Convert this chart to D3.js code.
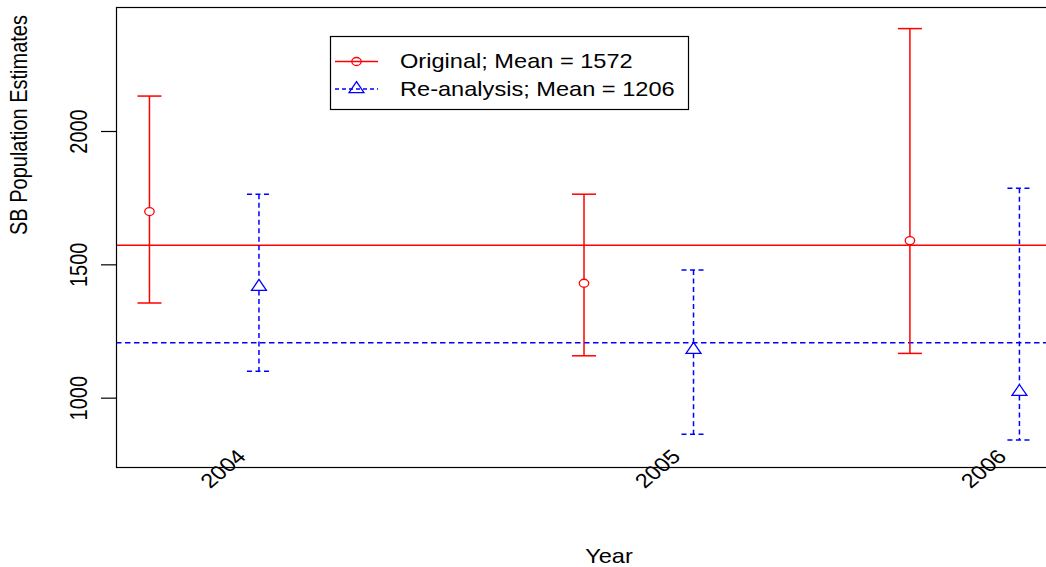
<!DOCTYPE html>
<html>
<head>
<meta charset="utf-8">
<script src="https://cdn.jsdelivr.net/npm/d3@7"></script>
<style>
body { margin: 0; background: #fff; }
text { font-family: "Liberation Sans", Arial, sans-serif; fill: #000; }
</style>
</head>
<body>
<script>
const years = ["2004", "2005", "2006"]
const yearPos = [0, 1, 1.75]
const origEst = [1698, 1429, 1589]
const origLow = [1355, 1157, 1166]
const origHigh = [2131, 1763, 2384]
const reEst = [1416, 1180, 1022]
const reLow = [1099, 863, 841]
const reHigh = [1763, 1479, 1785]
const yTicks = [1000, 1500, 2000]
const origOffset = -0.212
const reOffset = 0.04

// glyphs in the picture are stretched sideways a bit
const sx = 1.18
const lw = 1.5

const svg = d3.select("body").append("svg")
  .attr("width", 1046).attr("height", 567)

const xScale = d3.scaleLinear().domain([-0.289, 1.98]).range([116, 1102])
const yScale = d3.scaleLinear().domain([740, 2465]).range([467, 7])

const origMean = Math.round(d3.mean(origEst))
const reMean = Math.round(d3.mean(reEst))

const g = svg.append("g")

// mean lines
g.append("line")
  .attr("x1", xScale.range()[0]).attr("x2", xScale.range()[1])
  .attr("y1", yScale(origMean)).attr("y2", yScale(origMean))
  .attr("stroke", "red").attr("stroke-width", lw)
g.append("line")
  .attr("x1", xScale.range()[0]).attr("x2", xScale.range()[1])
  .attr("y1", yScale(reMean)).attr("y2", yScale(reMean))
  .attr("stroke", "blue").attr("stroke-width", lw).attr("stroke-dasharray", "5.5,3.5")

function circleMark(sel, x, y, color) {
  sel.append("ellipse").attr("cx", x).attr("cy", y)
    .attr("rx", 4 * sx).attr("ry", 4)
    .attr("fill", "none").attr("stroke", color).attr("stroke-width", 1.3)
}
function triMark(sel, x, y, color) {
  const r = 7.3
  const pts = [[0, -r], [r * 0.866 * sx, r / 2], [-r * 0.866 * sx, r / 2]]
  sel.append("path")
    .attr("d", "M" + pts.map(p => (x + p[0]) + "," + (y + p[1])).join("L") + "Z")
    .attr("fill", "none").attr("stroke", color).attr("stroke-width", 1.3)
}

function drawSeries(est, lo, hi, offset, color, dash, mark, gapUp, gapDown) {
  years.forEach(function (yr, i) {
    const x = xScale(yearPos[i] + offset)
    const ym = yScale(est[i])
    const s = g.append("g")
      .attr("stroke", color).attr("stroke-width", lw)
      .attr("stroke-dasharray", dash)
    s.append("line").attr("x1", x).attr("x2", x)
      .attr("y1", yScale(hi[i])).attr("y2", ym - gapUp)
    s.append("line").attr("x1", x).attr("x2", x)
      .attr("y1", ym + gapDown).attr("y2", yScale(lo[i]))
    s.append("line").attr("x1", x - 12).attr("x2", x + 12)
      .attr("y1", yScale(hi[i])).attr("y2", yScale(hi[i]))
    s.append("line").attr("x1", x - 12).attr("x2", x + 12)
      .attr("y1", yScale(lo[i])).attr("y2", yScale(lo[i]))
    mark(g, x, ym, color)
  })
}

drawSeries(origEst, origLow, origHigh, origOffset, "red", null, circleMark, 4, 4)
drawSeries(reEst, reLow, reHigh, reOffset, "blue", "5,3.5", triMark, 7.3, 3.65)

// plot box
svg.append("rect")
  .attr("x", xScale.range()[0] + 0.5).attr("y", yScale.range()[1] + 0.5)
  .attr("width", xScale.range()[1] - xScale.range()[0])
  .attr("height", yScale.range()[0] - yScale.range()[1])
  .attr("fill", "none").attr("stroke", "#000").attr("stroke-width", 1.2)

// y axis
const yAxis = svg.append("g")
  .attr("transform", "translate(" + xScale.range()[0] + ",0)")
  .call(d3.axisLeft(yScale).tickValues(yTicks).tickFormat(d3.format("d"))
    .tickSize(15).tickSizeOuter(0))
yAxis.select(".domain").remove()
yAxis.selectAll(".tick line").attr("stroke", "#000").attr("stroke-width", 1.2)
yAxis.selectAll(".tick text")
  .attr("x", null).attr("dy", null)
  .attr("text-anchor", "middle")
  .attr("font-size", 20)
  .attr("transform", "translate(-29,0) scale(" + sx + ",1) rotate(-90)")

// x labels
svg.selectAll(".xlab")
  .data(years)
  .join("text")
  .attr("class", "xlab")
  .attr("text-anchor", "end")
  .attr("dominant-baseline", "central")
  .attr("font-size", 20)
  .attr("transform", (d, i) => "translate(" + xScale(yearPos[i]) + ",453) scale(" + sx + ",1) rotate(-45)")
  .text(d => d)

// axis titles
svg.append("text")
  .attr("text-anchor", "middle")
  .attr("font-size", 20)
  .attr("transform", "translate(609,563) scale(" + sx + ",1)")
  .text("Year")
svg.append("text")
  .attr("text-anchor", "middle")
  .attr("font-size", 20)
  .attr("transform", "translate(27,125) scale(" + sx + ",1) rotate(-90)")
  .text("SB Population Estimates")

// legend
const leg = svg.append("g")
leg.append("rect")
  .attr("x", 330.5).attr("y", 36.5).attr("width", 358).attr("height", 73)
  .attr("fill", "#fff").attr("stroke", "#000").attr("stroke-width", 1.2)
const legItems = [
  { label: "Original; Mean = " + origMean, color: "red", dash: null, mark: circleMark },
  { label: "Re-analysis; Mean = " + reMean, color: "blue", dash: "4,3", mark: triMark }
]
legItems.forEach(function (d, i) {
  const y = 61.5 + i * 27.5
  leg.append("line").attr("x1", 335).attr("x2", 378).attr("y1", y).attr("y2", y)
    .attr("stroke", d.color).attr("stroke-width", lw).attr("stroke-dasharray", d.dash)
  d.mark(leg, 356.5, y, d.color)
  leg.append("text")
    .attr("dominant-baseline", "central")
    .attr("font-size", 20)
    .attr("transform", "translate(400," + y + ") scale(" + sx + ",1)")
    .text(d.label)
})
</script>
</body>
</html>
